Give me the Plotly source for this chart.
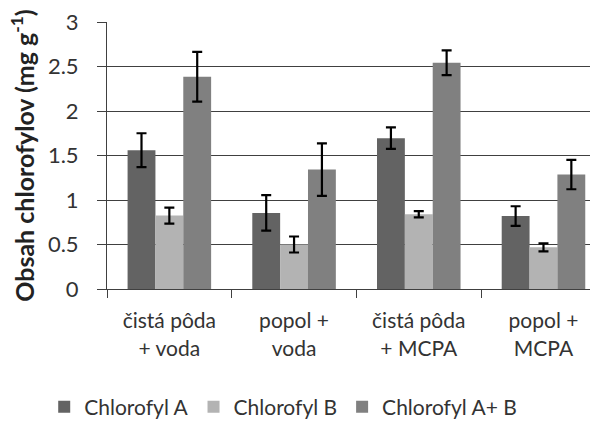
import plotly.graph_objects as go

categories = ["čistá pôda<br>+ voda", "popol +<br>voda", "čistá pôda<br>+ MCPA", "popol +<br>MCPA"]
series_names = ["Chlorofyl A", "Chlorofyl B", "Chlorofyl A+ B"]
chl_a = [1.56, 0.855, 1.695, 0.82]
chl_a_err = [0.19, 0.20, 0.12, 0.11]
chl_b = [0.825, 0.50, 0.84, 0.468]
chl_b_err = [0.09, 0.09, 0.035, 0.045]
chl_ab = [2.385, 1.342, 2.542, 1.286]
chl_ab_err = [0.28, 0.295, 0.14, 0.165]
colors = ["#636363", "#b3b3b3", "#808080"]

font_family = "Lato, 'Open Sans', sans-serif"

fig = go.Figure()
for name, vals, errs, col in zip(series_names, [chl_a, chl_b, chl_ab],
                                 [chl_a_err, chl_b_err, chl_ab_err], colors):
    fig.add_trace(go.Bar(
        x=categories, y=vals, name=name,
        marker=dict(color=col, line=dict(width=0)),
        error_y=dict(type="data", array=errs, color="black", thickness=2.2, width=5),
    ))

fig.update_layout(
    width=590, height=423,
    margin=dict(l=107, r=0, t=22, b=134, autoexpand=False),
    paper_bgcolor="white", plot_bgcolor="white",
    barmode="group", bargap=0.33, bargroupgap=0,
    font=dict(family=font_family, color="#333333", size=20),
    showlegend=True,
    legend=dict(orientation="h", x=-0.13, xanchor="left", y=-0.4425, yanchor="middle",
                font=dict(size=21, color="#333333"), itemwidth=30,
                traceorder="normal"),
    xaxis=dict(range=[-0.5, 3.373], showline=True, linecolor="#404040", linewidth=1,
               ticks="outside", tickson="boundaries", ticklen=8, tickcolor="#404040",
               tickfont=dict(size=21), showgrid=False, automargin=False,
               ticklabelstandoff=13),
    yaxis=dict(range=[0, 3], dtick=0.5, showline=True, linecolor="#404040", linewidth=1,
               showgrid=True, gridcolor="#404040", gridwidth=1,
               ticks="outside", ticklen=9, tickcolor="#404040",
               tickfont=dict(size=22), zeroline=False, automargin=False,
               ticklabelstandoff=14,
               title=dict(text="<b>Obsah chlorofylov (mg g<sup>-1</sup>)</b>",
                          font=dict(size=25, color="#222222"), standoff=6)),
)

fig.write_html("out.html", config={"displayModeBar": False},
               post_script="document.body.style.margin='0';")
